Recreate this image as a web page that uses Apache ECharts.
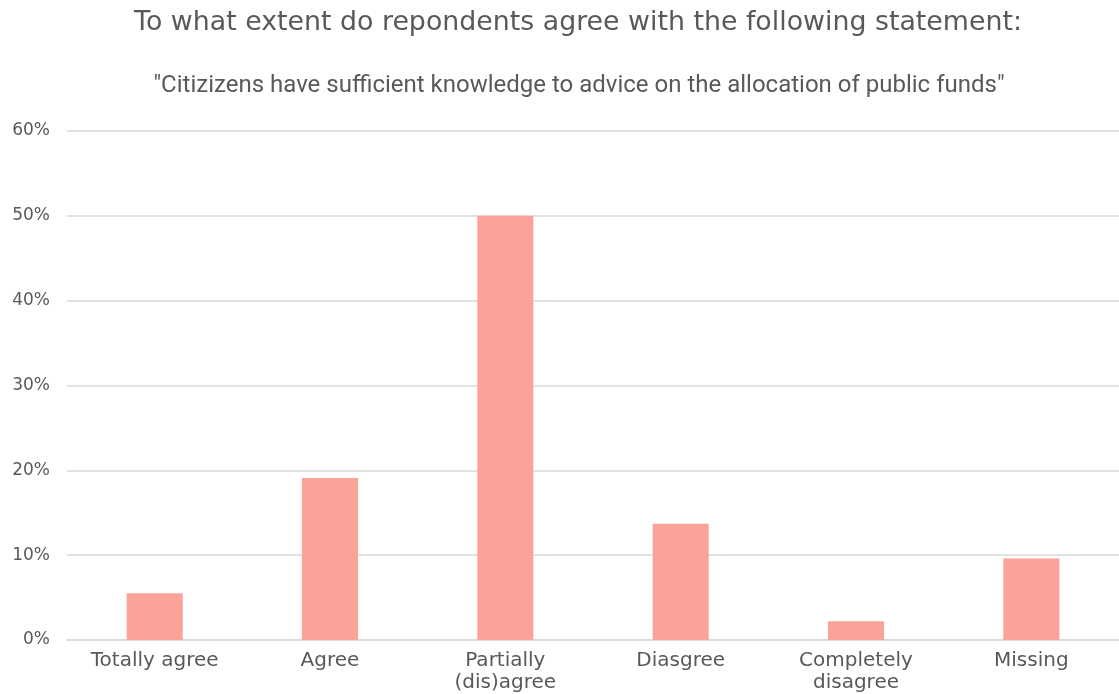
<!DOCTYPE html>
<html>
<head>
<meta charset="utf-8">
<script src="https://cdn.jsdelivr.net/npm/echarts@6/dist/echarts.min.js"></script>
<style>
  html, body { margin: 0; padding: 0; background: #ffffff; overflow: hidden; }
  #chart { width: 1119px; height: 694px; }
</style>
</head>
<body>
<div id="chart"></div>
<script>
// Survey answer categories and share of respondents (%)
const categories = ['Totally agree', 'Agree', 'Partially\n(dis)agree', 'Diasgree', 'Completely\ndisagree', 'Missing'];
const shares = [5.5, 19.1, 50.0, 13.7, 2.2, 9.6];
const yTicks = { min: 0, max: 60, interval: 10 };

const titleText = 'To what extent do repondents agree with the following statement:';
const subtitleText = '"Citizizens have sufficient knowledge to advice on the allocation of public funds"';

const chart = echarts.init(document.getElementById('chart'), null, { renderer: 'canvas' });

chart.setOption({
  backgroundColor: '#ffffff',
  animation: false,
  title: [
    {
      text: titleText,
      left: 573,
      textAlign: 'center',
      top: 5,
      textStyle: { fontFamily: 'DejaVu Sans', fontWeight: 'normal', fontSize: 26.8, color: '#595959' }
    },
    {
      text: subtitleText,
      left: 574,
      textAlign: 'center',
      top: 69,
      textStyle: { fontFamily: 'Liberation Sans Narrow, Roboto', fontWeight: 'normal', fontSize: 24, color: '#595959' }
    }
  ],
  grid: { left: 67, right: 0, top: 131, bottom: 50, containLabel: false },
  xAxis: {
    type: 'category',
    data: categories,
    axisTick: { show: false },
    axisLine: { show: true, lineStyle: { color: '#d9d9d9', width: 1.5 } },
    axisLabel: {
      interval: 0,
      margin: 10,
      color: '#595959',
      fontFamily: 'DejaVu Sans',
      fontSize: 20,
      lineHeight: 22
    }
  },
  yAxis: {
    type: 'value',
    min: yTicks.min,
    max: yTicks.max,
    interval: yTicks.interval,
    axisLine: { show: false },
    axisTick: { show: false },
    splitLine: { lineStyle: { color: '#d9d9d9', width: 1.5 } },
    axisLabel: {
      formatter: '{value}%',
      margin: 17,
      color: '#595959',
      fontFamily: 'DejaVu Sans',
      fontSize: 17
    }
  },
  series: [
    {
      type: 'bar',
      data: shares,
      barWidth: '32%',
      itemStyle: { color: '#fba398' }
    }
  ]
});
</script>
</body>
</html>
